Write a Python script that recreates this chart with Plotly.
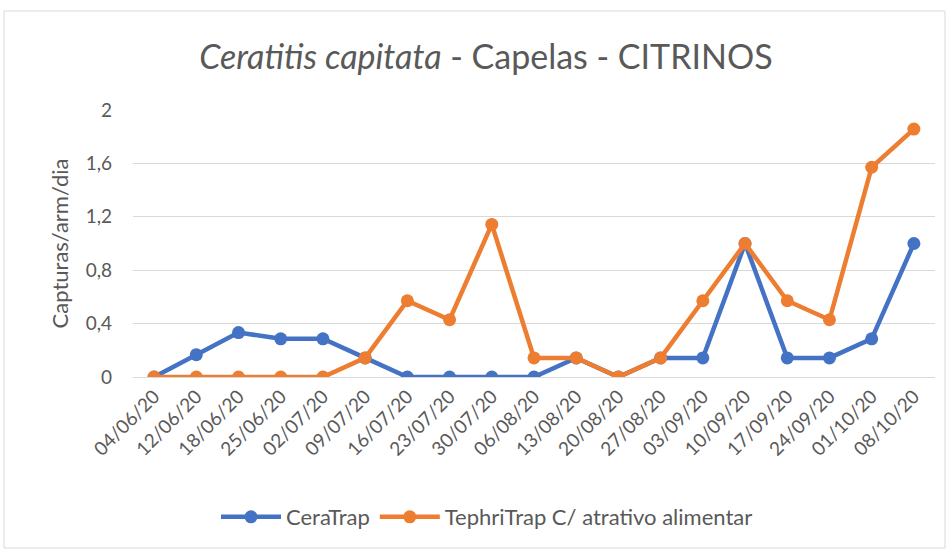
import plotly.graph_objects as go

dates = ["04/06/20", "12/06/20", "18/06/20", "25/06/20", "02/07/20", "09/07/20", "16/07/20",
         "23/07/20", "30/07/20", "06/08/20", "13/08/20", "20/08/20", "27/08/20", "03/09/20",
         "10/09/20", "17/09/20", "24/09/20", "01/10/20", "08/10/20"]
ceratrap = [0, 0.167, 0.333, 0.286, 0.286, 0.143, 0, 0, 0, 0, 0.143, 0, 0.143, 0.143,
            1.0, 0.143, 0.143, 0.286, 1.0]
tephritrap = [0, 0, 0, 0, 0, 0.143, 0.571, 0.429, 1.143, 0.143, 0.143, 0, 0.143, 0.571,
              1.0, 0.571, 0.429, 1.571, 1.857]

FONT = "Lato"
GREY = "#595959"

fig = go.Figure()
fig.add_trace(go.Scatter(x=dates, y=ceratrap, name="CeraTrap", mode="lines+markers",
                         line=dict(color="#4472C4", width=4.5),
                         marker=dict(size=13, color="#4472C4")))
fig.add_trace(go.Scatter(x=dates, y=tephritrap, name="TephriTrap C/ atrativo alimentar",
                         mode="lines+markers",
                         line=dict(color="#ED7D31", width=4.5),
                         marker=dict(size=13, color="#ED7D31")))

L, R, T, B = 133, 15, 110, 173
W, H = 950, 550
pw = W - L - R
ph = H - T - B

def px(x):
    return (x - L) / pw

def py(y):
    return (H - B - y) / ph

fig.add_shape(type="rect", xref="paper", yref="paper",
              x0=px(4), x1=px(945), y0=py(548), y1=py(11),
              line=dict(color="#D9D9D9", width=1), fillcolor="rgba(0,0,0,0)", layer="below")

fig.update_layout(
    width=W, height=H,
    margin=dict(l=L, r=R, t=T, b=B),
    paper_bgcolor="white", plot_bgcolor="white",
    separators=",.",
    font=dict(family=FONT, color=GREY),
    title=dict(text="<i>Ceratitis capitata</i> - Capelas - CITRINOS",
               x=486 / W, xanchor="center", xref="container",
               y=1 - 57 / H, yanchor="middle", yref="container",
               font=dict(size=34, color=GREY, family=FONT)),
    xaxis=dict(type="category", range=[-0.5, 18.5], tickangle=-45,
               tickfont=dict(size=19, color=GREY), showgrid=False,
               showline=True, linecolor="#D9D9D9", linewidth=1, ticks=""),
    yaxis=dict(range=[0, 2], dtick=0.4, tick0=0, showgrid=True, gridcolor="#D9D9D9",
               gridwidth=1.3, zeroline=False, tickfont=dict(size=19, color=GREY),
               ticks="", ticklen=0, ticklabelstandoff=20,
               title=dict(text="Capturas/arm/dia", font=dict(size=22, color=GREY), standoff=10)),
    legend=dict(orientation="h", x=487 / W, xref="container", xanchor="center",
                y=1 - 517 / H, yref="container", yanchor="middle",
                font=dict(size=22, color=GREY), itemwidth=60),
    showlegend=True,
)

fig.write_html("out.html", config={"displayModeBar": False},
               post_script="document.body.style.margin='0px';")
